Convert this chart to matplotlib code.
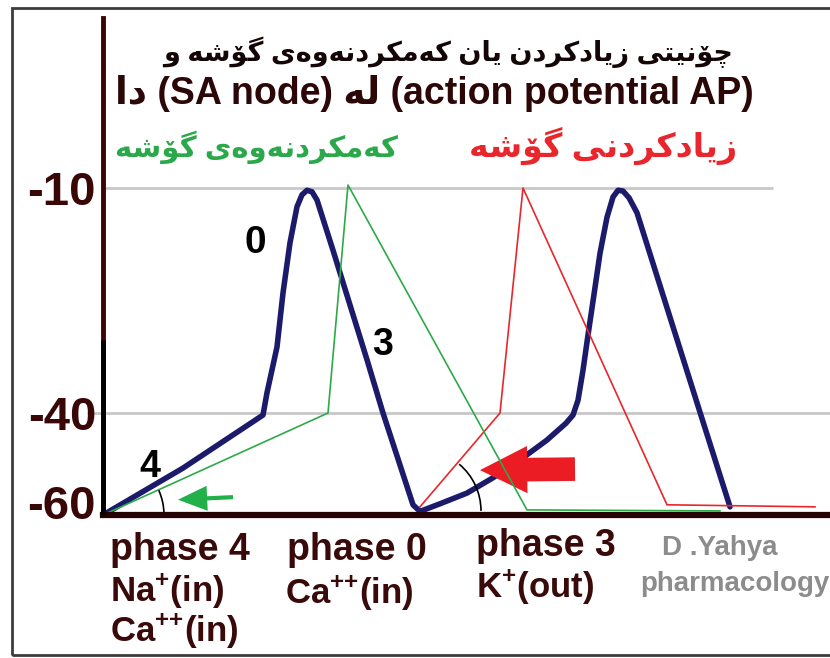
import numpy as np
import matplotlib
matplotlib.use("Agg")
import matplotlib.pyplot as plt
import matplotlib.patches as mpatches
import matplotlib.transforms as mtransforms

plt.rcParams['font.family'] = ['Liberation Sans', 'DejaVu Sans']
plt.rcParams['font.weight'] = 'bold'
plt.rcParams['mathtext.fontset'] = 'custom'
plt.rcParams['mathtext.rm'] = 'Liberation Sans:bold'
plt.rcParams['mathtext.it'] = 'Liberation Sans:bold'
plt.rcParams['mathtext.bf'] = 'Liberation Sans:bold'

# membrane potential (mV) against time (ms)
normal_t = [0, 80, 160, 164, 174, 180, 187, 194, 199, 204, 209, 214, 230, 264, 280, 310, 317,
            337, 364, 390, 417, 444, 463, 470, 475, 480, 485, 490, 497, 504, 510, 515, 520,
            526, 534, 597, 627]
normal_v = [-60, -50.8, -40.4, -37.3, -31.2, -24.0, -17.3, -12.5, -10.9, -10.3, -10.5, -11.6,
            -18.3, -32.9, -40, -58.0, -59.3, -57.8, -55.7, -52.7, -49.2, -45.3, -42.0, -40.4,
            -38.3, -34.3, -29.6, -25.1, -18.7, -13.9, -11.2, -10.3, -10.4, -11.3, -13.3,
            -39.9, -58.4]

slower_t = [0, 225, 245, 424, 617]            # reduced slope of phase 4
slower_v = [-60, -40, -9.6, -59.0, -59.2]

faster_t = [317, 397, 420, 564, 712]          # increased slope of phase 4
faster_v = [-58.4, -40, -10, -58.0, -58.4]

ytick_vals = [-60, -40, -10]
ytick_text = ['-60', '-40', '-10']

# piecewise linear mV axis
scale_mv = [-60, -40, -10, 20]
scale_u = [0, 102, 327, 552]


def fwd(v):
    return np.interp(v, scale_mv, scale_u)


def inv(u):
    return np.interp(u, scale_u, scale_mv)


# contextual letter forms: isolated, final, initial, medial
FORMS = {
    'ا': ('\uFE8D', '\uFE8E', None, None),
    'د': ('\uFEA9', '\uFEAA', None, None),
    'ر': ('\uFEAD', '\uFEAE', None, None),
    'ز': ('\uFEAF', '\uFEB0', None, None),
    'و': ('\uFEED', '\uFEEE', None, None),
    'ۆ': ('\uFBD9', '\uFBDA', None, None),
    'ە': ('\uFEE9', '\uFEEA', None, None),
    'ت': ('\uFE95', '\uFE96', '\uFE97', '\uFE98'),
    'چ': ('\uFB7A', '\uFB7B', '\uFB7C', '\uFB7D'),
    'ش': ('\uFEB5', '\uFEB6', '\uFEB7', '\uFEB8'),
    'ک': ('\uFB8E', '\uFB8F', '\uFB90', '\uFB91'),
    'گ': ('\uFB92', '\uFB93', '\uFB94', '\uFB95'),
    'ل': ('\uFEDD', '\uFEDE', '\uFEDF', '\uFEE0'),
    'م': ('\uFEE1', '\uFEE2', '\uFEE3', '\uFEE4'),
    'ن': ('\uFEE5', '\uFEE6', '\uFEE7', '\uFEE8'),
    'ی': ('\uFBFC', '\uFBFD', '\uFBFE', '\uFBFF'),
    'ێ': ('\uFBFC', '\uFBFD', '\uFBFE', '\uFBFF'),
}


def ku(s):
    """Shape Kurdish text and return it in visual (left-to-right) order."""
    out = []
    for i, c in enumerate(s):
        if c not in FORMS:
            out.append(c)
            continue
        prev = s[i - 1] if i > 0 else ''
        nxt = s[i + 1] if i + 1 < len(s) else ''
        j_prev = prev in FORMS and FORMS[prev][2] is not None
        j_next = FORMS[c][2] is not None and nxt in FORMS
        iso, fin, ini, med = FORMS[c]
        if j_prev and j_next:
            out.append(med)
        elif j_prev:
            out.append(fin)
        elif j_next:
            out.append(ini)
        else:
            out.append(iso)
    return ''.join(reversed(out))


W, H = 830, 658
fig = plt.figure(figsize=(W / 100, H / 100), dpi=100, facecolor='white')


def fx(x):
    return x / W


def fy(y):
    return 1 - y / H


ax = fig.add_axes([fx(103), fy(515), fx(830 - 103), (515 - 18) / H])
ax.set_yscale('function', functions=(fwd, inv))
ax.set_xlim(0, 727)
ax.set_ylim(-60, 12.67)
ax.set_xticks([])
ax.set_yticks(ytick_vals)
ax.set_yticklabels(ytick_text, fontsize=34, fontweight='bold', color='#3a0707')
ax.tick_params(axis='y', length=0, pad=5)
lab60 = ax.get_yticklabels()[0]
lab60.set_transform(lab60.get_transform() +
                    mtransforms.ScaledTranslation(0, 0.13, fig.dpi_scale_trans))

for s in ['top', 'right']:
    ax.spines[s].set_visible(False)
ax.spines['left'].set_color('#3a0606')
ax.spines['left'].set_linewidth(3.5)
ax.spines['bottom'].set_color('#250303')
ax.spines['bottom'].set_linewidth(4.5)
ax.spines['left'].set_zorder(6)
ax.spines['bottom'].set_zorder(6)
# darker lower part of the potential axis
ax.vlines(0, -60, -30.3, color='black', lw=3.5, zorder=7, clip_on=False)

# reference levels
ax.hlines(-10, 0, 670, color='#c8c8c8', lw=2, zorder=1)
ax.hlines(-40, -16, 727, color='#c8c8c8', lw=2, zorder=1, clip_on=False)

ax.plot(normal_t, normal_v, color='#1c1a6a', lw=4, solid_joinstyle='round',
        solid_capstyle='round', zorder=3)

# red arrow pointing at the steeper phase 4
red_arrow = mpatches.FancyArrowPatch((472, -51.0), (377, -51.2),
                                     arrowstyle='simple,head_length=34,head_width=34,tail_width=17',
                                     mutation_scale=1, shrinkA=0, shrinkB=0,
                                     color='#ec1c24', lw=0, zorder=3.5)
ax.add_patch(red_arrow)

ax.plot(faster_t, faster_v, color='#e8262c', lw=1.2, zorder=4)
ax.plot(slower_t, slower_v, color='#2caa48', lw=1.2, zorder=4)

green_arrow = mpatches.FancyArrowPatch((130, -56.5), (75, -57.0),
                                       arrowstyle='simple,head_length=21,head_width=18,tail_width=3',
                                       mutation_scale=1, shrinkA=0, shrinkB=0,
                                       color='#22b04a', lw=0, zorder=4)
ax.add_patch(green_arrow)

# slope angle marks
for (cx, cy), ang in [((0, -60), 24), ((317, -59.2), 50)]:
    tr = fig.dpi_scale_trans + mtransforms.ScaledTranslation(cx, cy, ax.transData)
    ax.add_patch(mpatches.Arc((0, 0), 1.22, 1.22, theta1=0, theta2=ang,
                              transform=tr, color='black', lw=1.2, zorder=5))

# phase numbers on the curve
ax.text(152, -17.3, '0', fontsize=28, fontweight='bold', color='black', ha='center', va='center')
ax.text(280, -30.9, '3', fontsize=27, fontweight='bold', color='black', ha='center', va='center')
ax.text(47, -50.6, '4', fontsize=27, fontweight='bold', color='black', ha='center', va='center')

# headings
fig.text(fx(448), fy(52), ku('چۆنێتی زیادکردن یان کەمکردنەوەی گۆشە و'),
         fontsize=19.5, fontweight='bold', color='#140606', ha='center', va='center')
fig.text(fx(434), fy(94), ku('دا') + ' (SA node) ' + ku('لە') + ' (action potential AP)',
         fontsize=27, fontweight='bold', color='#2c0707', ha='center', va='center')
fig.text(fx(256), fy(147), ku('کەمکردنەوەی گۆشە'), fontsize=21, fontweight='bold',
         color='#2aa84a', ha='center', va='center')
fig.text(fx(603), fy(146), ku('زیادکردنی گۆشە'), fontsize=24, fontweight='bold',
         color='#e8262c', ha='center', va='center')

# ion currents of each phase
ion_color = '#3a0a0a'
fig.text(fx(110), fy(550), 'phase 4', fontsize=27, color=ion_color, va='center')
fig.text(fx(110), fy(590), r'Na$^{+}$(in)', fontsize=25, color=ion_color, va='center')
fig.text(fx(110), fy(630), r'Ca$^{{+}{+}}$(in)', fontsize=25, color=ion_color, va='center')
fig.text(fx(287), fy(550), 'phase 0', fontsize=27, color=ion_color, va='center')
fig.text(fx(285), fy(592), r'Ca$^{{+}{+}}$(in)', fontsize=25, color=ion_color, va='center')
fig.text(fx(476), fy(546), 'phase 3', fontsize=27, color=ion_color, va='center')
fig.text(fx(476), fy(587), r'K$^{+}$(out)', fontsize=25, color=ion_color, va='center')
fig.text(fx(662), fy(548), 'D .Yahya', fontsize=20, color='#8c8c8c', va='center')
fig.text(fx(640), fy(584), 'pharmacology', fontsize=20, color='#8c8c8c', va='center')

# outer frame
fig.patches.append(mpatches.Rectangle((fx(12), fy(655)), 1.0, fy(8) - fy(655),
                                      transform=fig.transFigure, fill=False,
                                      edgecolor='#3c3c3c', lw=2))

fig.savefig('out.png', dpi=100, facecolor='white')
